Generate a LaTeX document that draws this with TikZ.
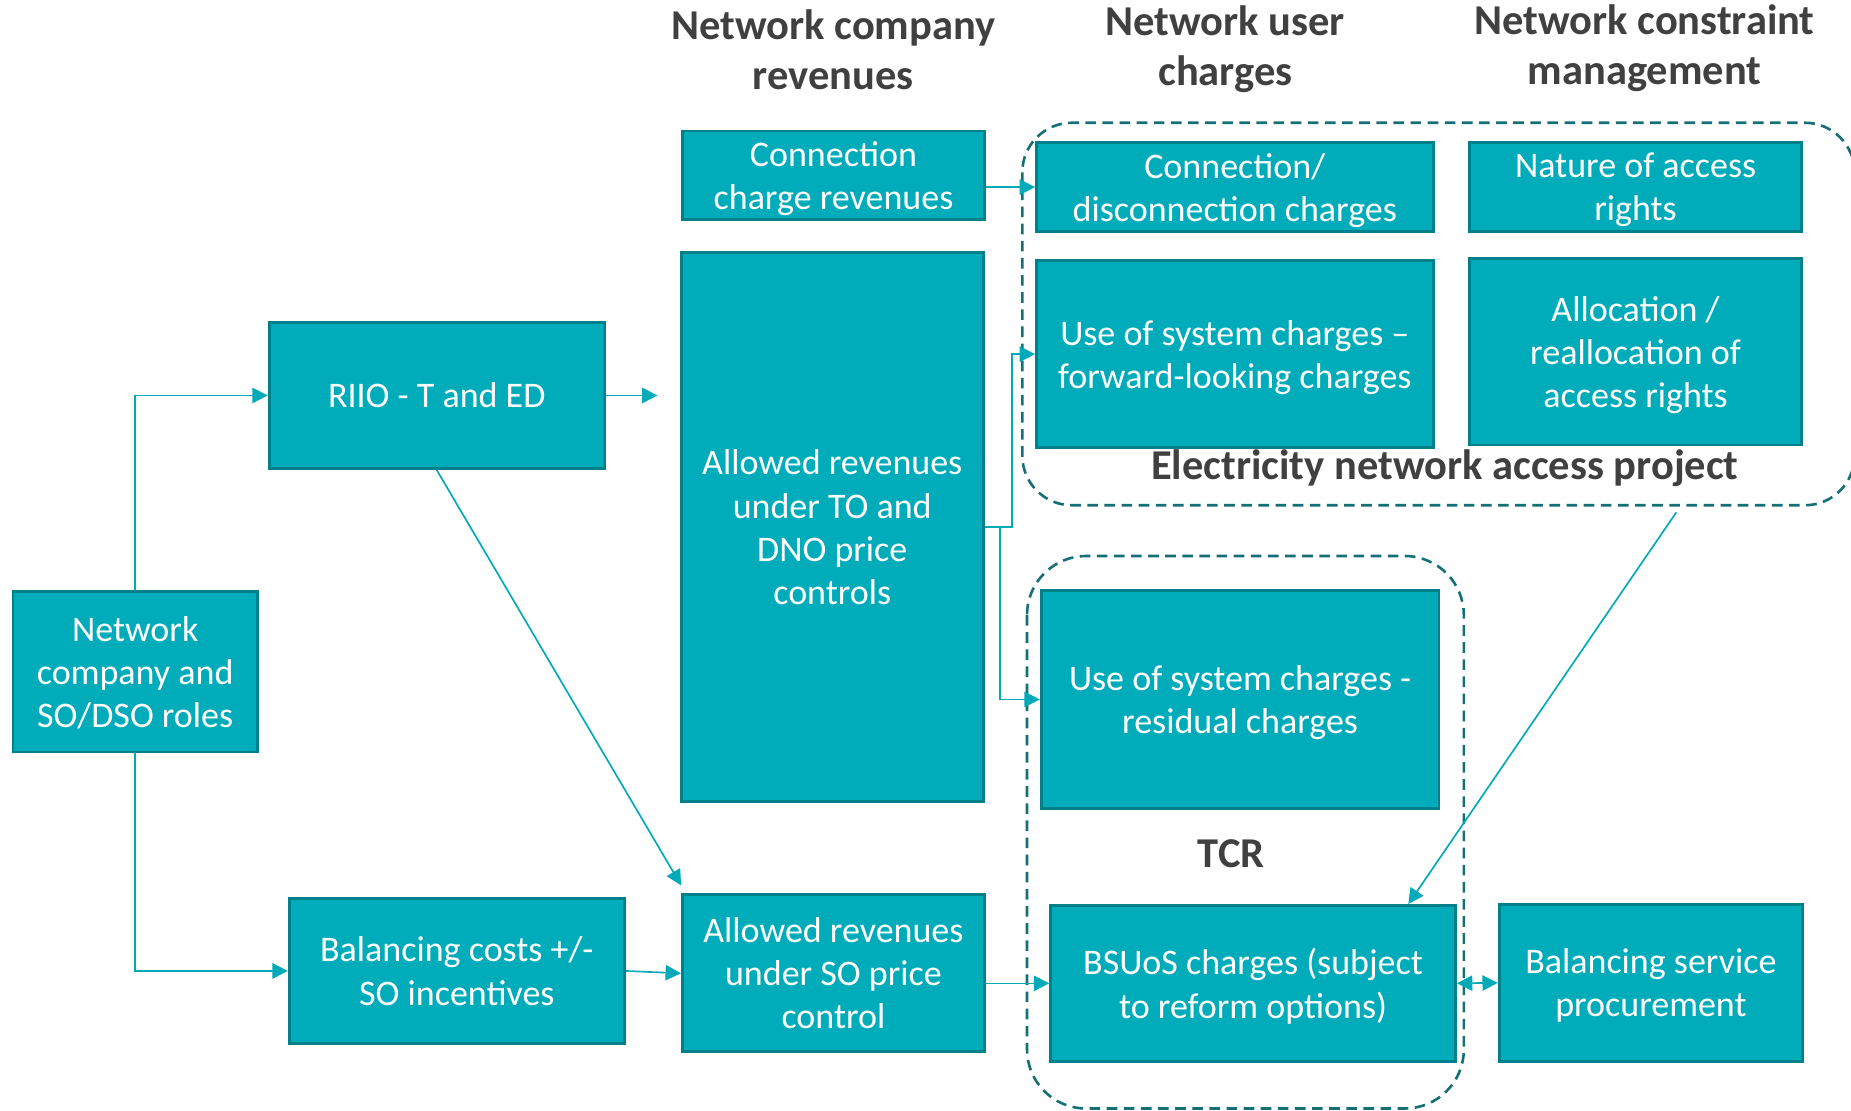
\documentclass[tikz,border=0pt]{standalone}
\usepackage{fontspec}
\setmainfont{Carlito}
\usetikzlibrary{arrows.meta}

\definecolor{boxfill}{RGB}{0,172,185}
\definecolor{boxedge}{RGB}{0,128,138}
\definecolor{linkc}{RGB}{0,170,184}
\definecolor{groupc}{RGB}{20,112,118}
\definecolor{headc}{RGB}{64,64,64}

\tikzset{
  box/.style={draw=boxedge, line width=2.4pt, fill=boxfill, text=white,
    align=center, inner sep=0pt, text depth=0pt,
    font=\fontsize{30.5}{36.5}\selectfont},
  link/.style={draw=linkc, line width=1.4pt,
    -{Triangle[length=13pt,width=13pt]}},
  twoway/.style={draw=linkc, line width=1.4pt,
    {Triangle[length=13pt,width=13pt]}-{Triangle[length=13pt,width=13pt]}},
  group/.style={draw=groupc, line width=2.2pt, dash pattern=on 9pt off 5.5pt},
  head/.style={text=headc, align=center, font=\bfseries\fontsize{36}{42.5}\selectfont},
  tag/.style={text=headc, font=\bfseries\fontsize{36}{40}\selectfont},
}

\begin{document}
\begin{tikzpicture}[x=1pt, y=-1pt]
\useasboundingbox[fill=white] (0,0) rectangle (1568,941);

% column headings
\node[head] (hrev) at (706,42) {Network company\\revenues};
\node[head] (huser) at (1038,42) {Network user\\charges};
\node[head] (hcons) at (1393,41) {Network constraint\\management};

% dashed groupings
\draw[group, rounded corners=42pt] (866,104) rectangle (1571,428);
\draw[group, rounded corners=50pt] (870,471) rectangle (1240,939);
\node[tag] (enalbl) at (1224,397) {Electricity network access project};
\node[tag] (tcrlbl) at (1043,723) {TCR};

% boxes
\node[box, minimum width=207pt, minimum height=136pt] (roles) at (114.5,569)
  {Network\\company and\\SO/DSO roles};
\node[box, minimum width=284pt, minimum height=124pt] (riio) at (370,335)
  {RIIO - T and ED};
\node[box, minimum width=284pt, minimum height=123pt] (balc) at (387,822.5)
  {Balancing costs +/-\\SO incentives};
\node[box, minimum width=256pt, minimum height=75pt] (ccrev) at (706,148.5)
  {Connection\\charge revenues};
\node[box, minimum width=256pt, minimum height=465pt] (arto) at (705,446.5)
  {Allowed revenues\\under TO and\\DNO price\\controls};
\node[box, minimum width=256pt, minimum height=133pt] (arso) at (706,824.5)
  {Allowed revenues\\under SO price\\control};
\node[box, minimum width=336pt, minimum height=75pt] (conn) at (1046,158.5)
  {Connection/\\disconnection charges};
\node[box, minimum width=281pt, minimum height=75pt] (natr) at (1385.5,158.5)
  {Nature of access\\rights};
\node[box, minimum width=336pt, minimum height=158pt] (uosf) at (1046,300)
  {Use of system charges --\\forward-looking charges};
\node[box, minimum width=281pt, minimum height=158pt] (allo) at (1385.5,298)
  {Allocation /\\reallocation of\\access rights};
\node[box, minimum width=337pt, minimum height=185pt] (uosr) at (1050.5,592.5)
  {Use of system charges -\\residual charges};
\node[box, minimum width=343pt, minimum height=132pt] (bsuos) at (1061.5,833)
  {BSUoS charges (subject\\to reform options)};
\node[box, minimum width=257pt, minimum height=133pt] (bsp) at (1398.5,832.5)
  {Balancing service\\procurement};

% free ends of connectors
\coordinate (riioend) at (557,335);
\coordinate (sotip) at (577,750);
\coordinate (enafoot) at (1420,434);
\coordinate (bsuostop) at ([xshift=131.5pt]bsuos.north);

% connectors
\draw[link] (roles.north) |- (riio.west);
\draw[link] (roles.south) |- (balc.west);
\draw[link] (riio.east) -- (riioend);
\draw[link] (riio.south) -- (sotip);
\draw[link] (balc.east) -- (arso.west);
\draw[link] (ccrev.east |- conn.west) -- (conn.west);
\draw[link] (arto.east) -- ++(23,0) |- (uosf.west);
\draw[link] ([xshift=13pt]arto.east) |- (uosr.west);
\draw[link] (arso.east |- bsuos.west) -- (bsuos.west);
\draw[twoway] (bsuos.east) -- (bsp.west);
\draw[link] (enafoot) -- (bsuostop);
\end{tikzpicture}
\end{document}
